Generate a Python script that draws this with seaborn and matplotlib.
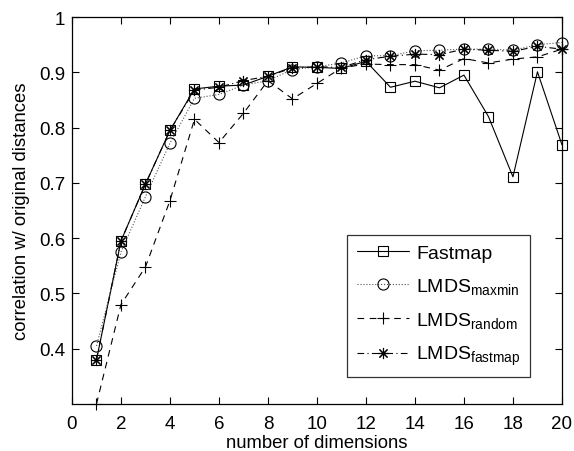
import numpy as np
import pandas as pd
import matplotlib
matplotlib.use("Agg")
import matplotlib.pyplot as plt
import seaborn as sns

dims = list(range(1, 21))
fastmap = [0.380, 0.595, 0.698, 0.795, 0.870, 0.875, 0.877, 0.893, 0.910, 0.909,
           0.907, 0.920, 0.873, 0.884, 0.872, 0.895, 0.820, 0.711, 0.901, 0.769]
lmds_maxmin = [0.405, 0.575, 0.675, 0.772, 0.853, 0.860, 0.877, 0.885, 0.905, 0.910,
               0.917, 0.930, 0.930, 0.939, 0.940, 0.942, 0.942, 0.940, 0.950, 0.954]
lmds_random = [0.300, 0.480, 0.548, 0.668, 0.815, 0.773, 0.826, 0.885, 0.852, 0.880,
               0.908, 0.915, 0.914, 0.914, 0.904, 0.925, 0.917, 0.924, 0.928, 0.942]
lmds_fastmap = [0.380, 0.595, 0.698, 0.795, 0.868, 0.873, 0.885, 0.893, 0.908, 0.910,
                0.909, 0.923, 0.929, 0.933, 0.932, 0.942, 0.940, 0.938, 0.947, 0.942]

labels = ["Fastmap", r"LMDS$_{\mathrm{maxmin}}$", r"LMDS$_{\mathrm{random}}$", r"LMDS$_{\mathrm{fastmap}}$"]
series = [fastmap, lmds_maxmin, lmds_random, lmds_fastmap]
xticks = list(range(0, 21, 2))
yticks = [0.4, 0.5, 0.6, 0.7, 0.8, 0.9, 1.0]
ytick_labels = ["0.4", "0.5", "0.6", "0.7", "0.8", "0.9", "1"]

sns.set_style("ticks")
plt.rcParams['font.family'] = ['Liberation Sans', 'DejaVu Sans']
plt.rcParams['mathtext.fontset'] = 'custom'
plt.rcParams['mathtext.rm'] = 'Liberation Sans'
plt.rcParams['mathtext.it'] = 'Liberation Sans:italic'
plt.rcParams['text.color'] = 'black'
plt.rcParams['axes.labelcolor'] = 'black'
plt.rcParams['xtick.color'] = 'black'
plt.rcParams['ytick.color'] = 'black'

fig = plt.figure(figsize=(5.74, 4.52), dpi=100)
ax = fig.add_axes([0.1254, 0.104, 0.8536, 0.856])

styles = [
    dict(linestyle='-', marker='s', markersize=6.5, color='black'),
    dict(linestyle=':', marker='o', markersize=8, color='#555555'),
    dict(linestyle=(0, (6, 5)), marker='+', markersize=9, color='black'),
    dict(linestyle=(0, (6, 3, 1, 3)), marker=(8, 2, 0), markersize=8, color='black'),
]

for lab, vals, st in zip(labels, series, styles):
    df = pd.DataFrame({"dim": dims, "corr": vals})
    sns.lineplot(data=df, x="dim", y="corr", ax=ax, label=lab,
                 color=st['color'], linestyle=st['linestyle'], linewidth=0.8,
                 marker=st['marker'], markersize=st['markersize'],
                 markerfacecolor='none', markeredgecolor='black', markeredgewidth=0.8,
                 clip_on=False)

ax.set_xlim(0, 20)
ax.set_ylim(0.3, 1.0)
ax.set_xticks(xticks)
ax.set_yticks(yticks)
ax.set_yticklabels(ytick_labels)
ax.tick_params(direction='in', top=True, right=True, labelsize=13.5, length=5, width=0.8,
               colors='black', labelcolor='black')
ax.tick_params(axis='x', pad=8)
ax.tick_params(axis='y', pad=5)
for s in ax.spines.values():
    s.set_visible(True)
    s.set_linewidth(0.9)
    s.set_color('black')
ax.set_xlabel("number of dimensions", fontsize=13.3, color='black')
ax.set_ylabel("correlation w/ original distances", fontsize=13.3, color='black')
ax.xaxis.set_label_coords(0.5, -0.078)
ax.xaxis.label.set_verticalalignment('top')
ax.yaxis.set_label_coords(-0.086, 0.5)

leg = ax.legend(loc='upper left', bbox_to_anchor=(0.561, 0.437), borderaxespad=0,
                fontsize=14, frameon=True, fancybox=False, edgecolor='black',
                handlelength=2.7, labelspacing=0.72, borderpad=0.5, handletextpad=0.35)
leg.get_frame().set_linewidth(0.9)
for t in leg.get_texts():
    t.set_color('black')

fig.savefig("out.png", dpi=100)
